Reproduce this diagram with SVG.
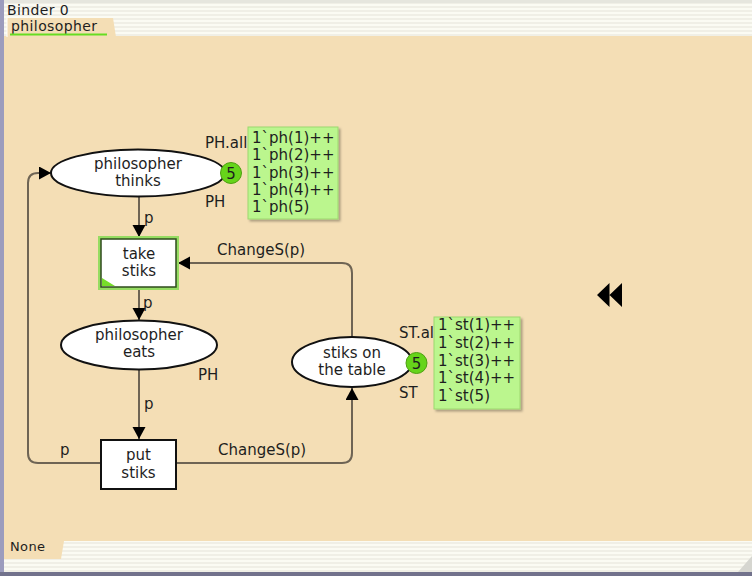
<svg xmlns="http://www.w3.org/2000/svg" width="752" height="576" viewBox="0 0 752 576">
  <defs>
    <pattern id="stripes" width="8" height="4" patternUnits="userSpaceOnUse">
      <rect width="8" height="4" fill="#f0efe6"/>
      <rect width="8" height="2" fill="#fbfbf3"/>
    </pattern>
    <marker id="arrow" markerUnits="userSpaceOnUse" markerWidth="13" markerHeight="14" refX="12" refY="6.5" orient="auto">
      <path d="M0,0 L12,6.5 L0,13 z" fill="#000"/>
    </marker>
    <filter id="shadow" x="-10%" y="-10%" width="130%" height="130%">
      <feDropShadow dx="2" dy="2" stdDeviation="1" flood-color="#000" flood-opacity="0.3"/>
    </filter>
  </defs>
  <style>
    text { font-family: "DejaVu Sans", Verdana, sans-serif; font-size: 15px; fill: #1e1e1e; }
    .tab { font-size: 14px; letter-spacing: 0.4px; }
    .mid { text-anchor: middle; }
    .place { fill: #ffffff; stroke: #111; stroke-width: 2; }
    .trans { fill: #ffffff; stroke: #111; stroke-width: 2; }
    .arc { fill: none; stroke: #6e6454; stroke-width: 2; }
    .token { fill: #66d41a; stroke: #4da010; stroke-width: 1; }
    .marking { fill: #bbf68e; stroke: #9cd86f; stroke-width: 1; }
  </style>

  <!-- window chrome -->
  <rect x="0" y="0" width="752" height="576" fill="url(#stripes)"/>
  <rect x="0" y="0" width="752" height="3" fill="#e6e6de"/>
  <rect x="0" y="36" width="752" height="505" fill="#f4deb5"/>
  <rect x="0" y="0" width="4" height="576" fill="#9c9cbd"/>
  <rect x="0" y="572" width="752" height="4" fill="#72728c"/>
  <path d="M752,556 L752,572 L738,572 z" fill="#d6d6d0"/>
  <text x="7" y="15" class="tab">Binder 0</text>

  <!-- page tab -->
  <path d="M7,18 L113,18 L116,37 L7,37 z" fill="#f4deb5"/>
  <line x1="7" y1="18" x2="7" y2="37" stroke="#ffffff" stroke-width="1"/>
  <text x="11" y="31" class="tab">philosopher</text>
  <line x1="10" y1="34.5" x2="107" y2="34.5" stroke="#66dd22" stroke-width="2"/>

  <!-- status tab -->
  <path d="M4,541 L64,541 L61,559 L4,559 z" fill="#f4deb5"/>
  <text x="10" y="551" class="tab" style="font-size:13px">None</text>

  <!-- connectors -->
  <g id="arcs">
    <path class="arc" d="M139,197 L139,237" marker-end="url(#arrow)"/>
    <path class="arc" d="M139,288 L139,320" marker-end="url(#arrow)"/>
    <path class="arc" d="M139,370 L139,439" marker-end="url(#arrow)"/>
    <path class="arc" d="M101,463 L38,463 Q28,463 28,453 L28,183 Q28,173 38,173 L51,173" marker-end="url(#arrow)"/>
    <path class="arc" d="M176,463 L342,463 Q352,463 352,453 L352,388" marker-end="url(#arrow)"/>
    <path class="arc" d="M352,337 L352,273 Q352,263 342,263 L178,263" marker-end="url(#arrow)"/>
    <text x="144" y="223">p</text>
    <text x="143" y="308">p</text>
    <text x="144" y="409">p</text>
    <text x="60" y="455">p</text>
    <text x="218" y="455">ChangeS(p)</text>
    <text x="217" y="255">ChangeS(p)</text>
  </g>

  <!-- place: philosopher thinks -->
  <g id="thinks">
    <ellipse class="place" cx="138" cy="173" rx="87" ry="23.5"/>
    <text class="mid" x="138" y="169">philosopher</text>
    <text class="mid" x="138" y="186">thinks</text>
    <text x="205" y="148">PH.all</text>
    <text x="205" y="207">PH</text>
    <circle class="token" cx="231" cy="173" r="10.5"/>
    <text class="mid" x="231" y="178.5">5</text>
    <rect class="marking" x="248" y="127" width="90" height="92" filter="url(#shadow)"/>
    <text x="252" y="143">1`ph(1)++</text>
    <text x="252" y="160.25">1`ph(2)++</text>
    <text x="252" y="177.5">1`ph(3)++</text>
    <text x="252" y="194.75">1`ph(4)++</text>
    <text x="252" y="212">1`ph(5)</text>
  </g>

  <!-- transition: take stiks (enabled) -->
  <g id="take">
    <rect x="101" y="239" width="75" height="48" fill="none" stroke="#96dc62" stroke-width="6"/>
    <rect x="101" y="239" width="75" height="48" fill="#ffffff" stroke="#2e4a1c" stroke-width="1.5"/>
    <path d="M102,278 L102,286 L115,286 z" fill="#77dd2a"/>
    <text class="mid" x="139" y="259">take</text>
    <text class="mid" x="139" y="276">stiks</text>
  </g>

  <!-- place: philosopher eats -->
  <g id="eats">
    <ellipse class="place" cx="139" cy="345" rx="78" ry="24.5"/>
    <text class="mid" x="139" y="340">philosopher</text>
    <text class="mid" x="139" y="357">eats</text>
    <text x="198" y="380">PH</text>
  </g>

  <!-- transition: put stiks -->
  <g id="put">
    <rect class="trans" x="101" y="440" width="75" height="49"/>
    <text class="mid" x="138.5" y="460">put</text>
    <text class="mid" x="138.5" y="478">stiks</text>
  </g>

  <!-- place: stiks on the table -->
  <g id="table">
    <ellipse class="place" cx="352" cy="362" rx="60" ry="25"/>
    <text class="mid" x="352" y="358">stiks on</text>
    <text class="mid" x="352" y="375">the table</text>
    <text x="399" y="338">ST.al</text>
    <text x="399" y="398">ST</text>
    <circle class="token" cx="416.5" cy="363" r="10.5"/>
    <text class="mid" x="416.5" y="368.5">5</text>
    <rect class="marking" x="434" y="317" width="86" height="92" filter="url(#shadow)"/>
    <text x="438" y="330">1`st(1)++</text>
    <text x="438" y="347.75">1`st(2)++</text>
    <text x="438" y="365.5">1`st(3)++</text>
    <text x="438" y="383.25">1`st(4)++</text>
    <text x="438" y="401">1`st(5)</text>
  </g>

  <!-- rewind control -->
  <g id="rewind">
    <path d="M597,295 L609.5,283 L609.5,307 z M609.5,295 L622,283 L622,307 z" fill="#000"/>
  </g>
</svg>
